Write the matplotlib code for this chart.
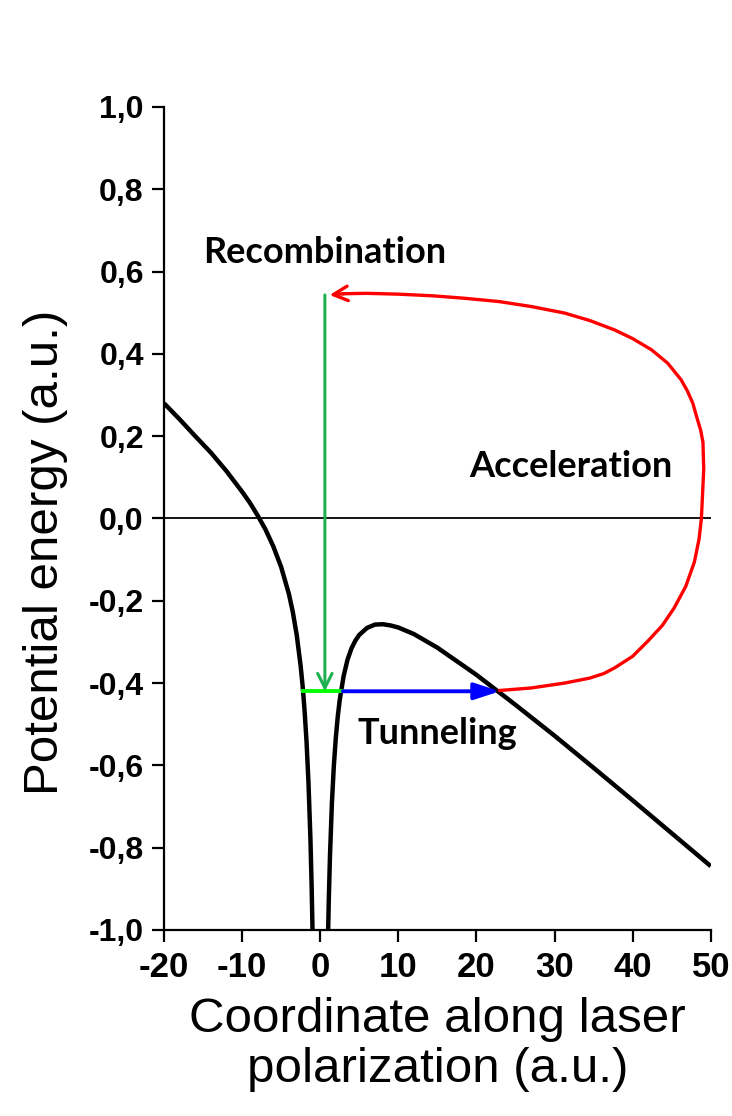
#!/usr/bin/env python3
"""Three-step model sketch: potential, tunneling, acceleration, recombination."""

import matplotlib.pyplot as plt
from matplotlib.ticker import FixedLocator

# Coulomb potential tilted by the laser field
x_left = [-20, -18, -16, -14, -12, -10, -9, -8, -7, -6, -5, -4, -3.5, -3, -2.5,
          -2.25, -2, -1.75, -1.5, -1.25, -1.1, -1.0, -0.97]
v_left = [0.28, 0.241, 0.20, 0.16, 0.115, 0.065, 0.038, 0.007, -0.027, -0.068,
          -0.118, -0.184, -0.228, -0.284, -0.359, -0.407, -0.467, -0.542,
          -0.642, -0.779, -0.891, -0.984, -1.015]
x_right = [1.0, 1.1, 1.25, 1.5, 1.75, 2, 2.25, 2.5, 3, 3.5, 4, 4.5, 5, 6, 7, 8,
           9, 10, 12, 15, 20, 25, 30, 35, 40, 45, 50]
v_right = [-1.017, -0.927, -0.821, -0.691, -0.600, -0.533, -0.481, -0.441,
           -0.383, -0.343, -0.316, -0.297, -0.283, -0.266, -0.258, -0.257,
           -0.260, -0.265, -0.281, -0.314, -0.38, -0.453, -0.528, -0.606,
           -0.685, -0.765, -0.845]

# electron trajectory in the continuum (red loop)
x_path = [23.0, 27.0, 31.3, 34.5, 36.3, 37.7, 40.0, 41.9, 43.8, 45.3, 46.8,
          47.9, 48.5, 48.8, 48.95, 49.1, 49.0, 48.7, 48.3, 47.7, 47.0, 46.2,
          44.5, 42.4, 40.0, 37.7, 34.5, 31.3, 27.0, 22.9, 18.5, 14.4, 10.0,
          5.9, 3.0, 1.2]
y_path = [-0.418, -0.412, -0.40, -0.388, -0.377, -0.363, -0.335, -0.299,
          -0.26, -0.218, -0.165, -0.106, -0.05, 0.0, 0.06, 0.12, 0.185, 0.215,
          0.24, 0.28, 0.31, 0.337, 0.377, 0.41, 0.437, 0.458, 0.481, 0.499,
          0.515, 0.527, 0.535, 0.541, 0.545, 0.547, 0.546, 0.543]

ion_level = -0.42
x_bound = [-2.2, 2.9]
x_tunnel = [2.9, 23.0]
x_recomb = 0.6

xticks = [-20, -10, 0, 10, 20, 30, 40, 50]
yticks = [1.0, 0.8, 0.6, 0.4, 0.2, 0.0, -0.2, -0.4, -0.6, -0.8, -1.0]
ytick_labels = ['1,0', '0,8', '0,6', '0,4', '0,2', '0,0', '-0,2', '-0,4',
                '-0,6', '-0,8', '-1,0']

fig = plt.figure(figsize=(7.32, 11.16), dpi=100)
ax = fig.add_axes([0.224, 0.1667, 0.747, 0.7375])

ax.axhline(0, color='black', lw=1.3, zorder=1)
ax.plot(x_left, v_left, color='black', lw=3.2, solid_capstyle='butt', zorder=3)
ax.plot(x_right, v_right, color='black', lw=3.2, solid_capstyle='butt', zorder=3)

# tunneling (blue) and bound state (lime)
ax.plot(x_bound, [ion_level, ion_level], color='#00ff00', lw=2.8, zorder=4)
ax.annotate('', xy=(x_tunnel[1], ion_level), xytext=(x_tunnel[0], ion_level),
            arrowprops=dict(arrowstyle='-|>,head_length=0.55,head_width=0.18',
                            color='#0000ff', lw=2.8, mutation_scale=28,
                            shrinkA=0, shrinkB=0), zorder=4)

# acceleration (red)
ax.plot(x_path[:-1], y_path[:-1], color='#ff0000', lw=2.4, zorder=4,
        solid_joinstyle='round')
ax.annotate('', xy=(x_path[-1], y_path[-1]), xytext=(x_path[-2], y_path[-2]),
            arrowprops=dict(arrowstyle='->', color='#ff0000', lw=2.4,
                            mutation_scale=26, shrinkA=0, shrinkB=0), zorder=4)

# recombination (green)
ax.annotate('', xy=(x_recomb, ion_level), xytext=(x_recomb, y_path[-1]),
            arrowprops=dict(arrowstyle='->', color='#1fb050', lw=2.2,
                            mutation_scale=26, shrinkA=0, shrinkB=0), zorder=5)

txt = dict(fontsize=26, fontweight='bold', family='Lato', color='black')
ax.text(0.6, 0.62, 'Recombination', ha='center', va='baseline', **txt)
ax.text(32.1, 0.10, 'Acceleration', ha='center', va='baseline', **txt)
ax.text(15.0, -0.548, 'Tunneling', ha='center', va='baseline', **txt)

ax.set_xlim(-20, 50)
ax.set_ylim(-1.0, 1.0)
ax.xaxis.set_major_locator(FixedLocator(xticks))
ax.set_xticklabels([str(t) for t in xticks])
ax.yaxis.set_major_locator(FixedLocator(yticks))
ax.set_yticklabels(ytick_labels)

for side in ['top', 'right']:
    ax.spines[side].set_visible(False)
for side in ['left', 'bottom']:
    ax.spines[side].set_linewidth(1.6)
ax.tick_params(direction='out', length=8.5, width=1.6)
ax.tick_params(axis='x', pad=7)
ax.tick_params(axis='y', pad=6)
for lab in ax.get_xticklabels():
    lab.set_fontsize(25)
    lab.set_fontweight('bold')
    lab.set_family('Liberation Sans')
for lab in ax.get_yticklabels():
    lab.set_fontsize(23)
    lab.set_fontweight('bold')
    lab.set_family('Liberation Sans')

ax.set_xlabel('Coordinate along laser\npolarization (a.u.)', fontsize=35.5,
              family='Liberation Sans', linespacing=1.16)
ax.xaxis.set_label_coords(0.5, -0.081)
ax.set_ylabel('Potential energy (a.u.)', fontsize=35.5,
              family='Liberation Sans')
ax.yaxis.set_label_coords(-0.176, 0.459)

fig.savefig('out.png', dpi=100)
